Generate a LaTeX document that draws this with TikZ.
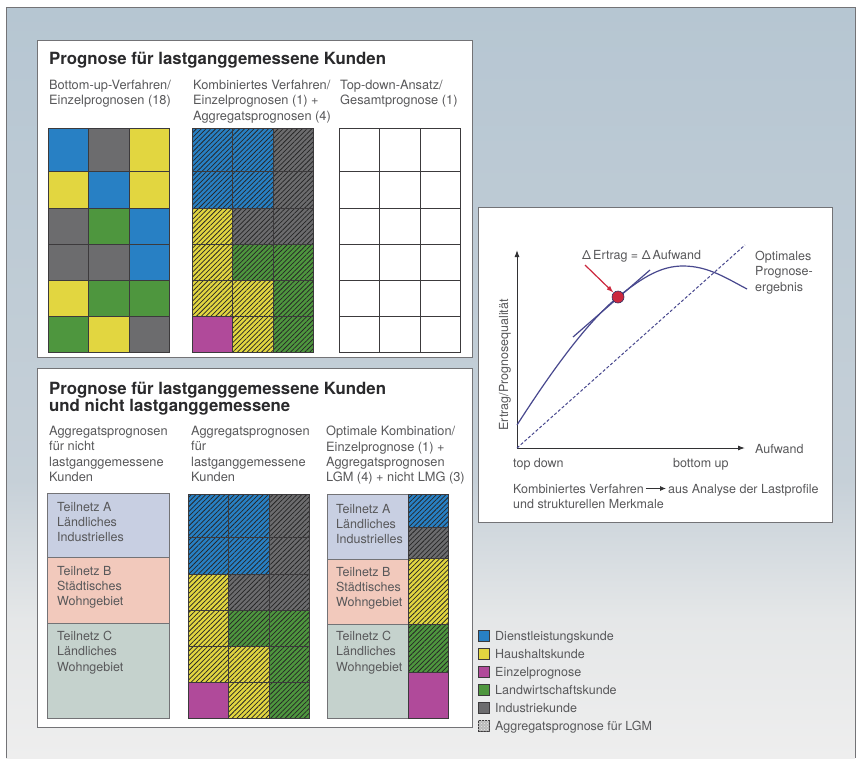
\documentclass[tikz,border=0pt]{standalone}
\usepackage{fontspec}
\setmainfont{TeX Gyre Heros}
\usetikzlibrary{positioning,arrows.meta,patterns,patterns.meta}

\definecolor{cblue}{RGB}{40,128,196}
\definecolor{cyellow}{RGB}{226,214,64}
\definecolor{cgreen}{RGB}{78,150,62}
\definecolor{cgrey}{RGB}{108,108,110}
\definecolor{cmag}{RGB}{176,74,154}
\definecolor{bandA}{RGB}{200,207,226}
\definecolor{bandB}{RGB}{242,201,188}
\definecolor{bandC}{RGB}{197,210,205}
\definecolor{txt}{RGB}{88,88,90}
\definecolor{ttlc}{RGB}{42,42,44}
\definecolor{cline}{RGB}{60,58,60}
\definecolor{pframe}{RGB}{115,115,118}
\definecolor{crv}{RGB}{72,72,142}
\definecolor{axc}{RGB}{50,50,52}
\definecolor{dotred}{RGB}{204,40,62}
\definecolor{bgA}{RGB}{182,198,210}
\definecolor{bgB}{RGB}{198,208,216}
\definecolor{bgC}{RGB}{229,231,232}
\definecolor{bgD}{RGB}{238,238,238}

\begin{document}
\begin{tikzpicture}[x=1pt, y=-1pt,
    every node/.style={inner sep=0pt, text=txt, font=\fontsize{12.5}{15.3}\selectfont},
    ttl/.style={anchor=north west, align=left, text=ttlc, font=\fontsize{16.8}{17}\selectfont\bfseries},
    lbl/.style={anchor=north west, align=left},
    head/.style={lbl, font=\fontsize{12.8}{15.3}\selectfont},
    panel/.style={draw=pframe, line width=1pt, fill=white},
    cell/.style={draw=cline, line width=0.6pt},
    band/.style={draw=pframe, line width=0.6pt},
    hb/.style={fill=#1, postaction={pattern={Lines[angle=45, distance=3.4pt, line width=0.75pt]}, pattern color=black!85}},
    axis/.style={draw=axc, line width=1pt, -{Latex[length=7pt, width=5pt]}},
    curve/.style={draw=crv, line width=1.2pt},
    key/.style={draw=cline, line width=0.5pt, minimum size=11pt, anchor=west}]
\useasboundingbox (0,0) rectangle (859,758);
\fill[white] (0,0) rectangle (859,758);
\shade[top color=bgA, bottom color=bgB] (6,7) rectangle (855,480);
\shade[top color=bgB, bottom color=bgC] (6,480) rectangle (855,620);
\shade[top color=bgC, bottom color=bgD] (6,620) rectangle (855,758);
\draw[pframe, line width=1pt] (6,758) -- (6,7) -- (855,7) -- (855,758);

\draw[panel] (37,40) rectangle (472,357);
\draw[panel] (37,368) rectangle (472,727);
\draw[panel] (478,207) rectangle (832,522);

\node[ttl] (title-lgm) at (49,52) {Prognose für lastganggemessene Kunden};
\node[head] (bottom-up) at (49,80) {Bottom-up-Verfahren/\\Einzelprognosen (18)};
\node[head] (combined) at (193,80) {Kombiniertes Verfahren/\\Einzelprognosen (1) +\\Aggregatsprognosen (4)};
\node[head] (top-down) at (340,80) {Top-down-Ansatz/\\Gesamtprognose (1)};

\begin{scope}[shift={(48,128)}]
\foreach \yt/\yb/\a/\b/\c in {0/43/cblue/cgrey/cyellow, 43/80/cyellow/cblue/cyellow, 80/116/cgrey/cgreen/cblue,
    116/152/cgrey/cgrey/cblue, 152/188/cyellow/cgreen/cgreen, 188/224/cgreen/cyellow/cgrey}
  {\fill[\a] (0,\yt) rectangle (40.5,\yb);
   \fill[\b] (40.5,\yt) rectangle (81,\yb);
   \fill[\c] (81,\yt) rectangle (121.5,\yb);}
\end{scope}

\foreach \gx/\gy in {192/128, 188/494}
  {\begin{scope}[shift={(\gx,\gy)}]
   \foreach \yt/\yb/\a/\b/\c in {0/43/cblue/cblue/cgrey, 43/80/cblue/cblue/cgrey, 80/116/cyellow/cgrey/cgrey,
       116/152/cyellow/cgreen/cgreen, 152/188/cyellow/cyellow/cgreen, 188/224/cmag/cyellow/cgreen}
     {\fill[hb=\a] (0,\yt) rectangle (40.5,\yb);
      \fill[hb=\b] (40.5,\yt) rectangle (81,\yb);
      \fill[hb=\c] (81,\yt) rectangle (121.5,\yb);}
   \fill[cmag] (0,188) rectangle (40.5,224);
   \end{scope}}

\fill[white] (339,128) rectangle (460.5,352);
\foreach \gx/\gy in {48/128, 192/128, 339/128, 188/494}
  {\begin{scope}[shift={(\gx,\gy)}]
   \foreach \y in {0,43,80,116,152,188,224} \draw[cell] (0,\y) -- (121.5,\y);
   \foreach \x in {0,40.5,81,121.5} \draw[cell] (\x,0) -- (\x,224);
   \end{scope}}

\node[ttl] (title-all) at (49,382) {Prognose für lastganggemessene Kunden\\und nicht lastganggemessene};
\node[head] (agg-nlgm) at (49,426) {Aggregatsprognosen\\für nicht\\lastganggemessene\\Kunden};
\node[head] (agg-lgm) at (191,426) {Aggregatsprognosen\\für\\lastganggemessene\\Kunden};
\node[head] (optimal) at (326,426) {Optimale Kombination/\\Einzelprognose (1) +\\Aggregatsprognosen\\LGM (4) + nicht LMG (3)};

\draw[band, fill=bandA] (47,493) rectangle (169,557);
\draw[band, fill=bandB] (47,557) rectangle (169,623);
\draw[band, fill=bandC] (47,623) rectangle (169,718);
\node[lbl] (net-a) at (57,502) {Teilnetz A\\Ländliches\\Industrielles};
\node[lbl] (net-b) at (57,566) {Teilnetz B\\Städtisches\\Wohngebiet};
\node[lbl] (net-c) at (57,631) {Teilnetz C\\Ländliches\\Wohngebiet};

\draw[band, fill=bandA] (327,494) rectangle (408,559);
\draw[band, fill=bandB] (327,559) rectangle (408,624);
\draw[band, fill=bandC] (327,624) rectangle (408,718);
\fill[hb=cblue] (408,494) rectangle (448,527);
\fill[hb=cgrey] (408,527) rectangle (448,558);
\fill[hb=cyellow] (408,558) rectangle (448,624);
\fill[hb=cgreen] (408,624) rectangle (448,672);
\fill[cmag] (408,672) rectangle (448,718);
\draw[cell] (408,494) rectangle (448,718);
\foreach \y in {527,558,624,672} \draw[cell] (408,\y) -- (448,\y);
\node[lbl] (opt-a) at (336,504) {Teilnetz A\\Ländliches\\Industrielles};
\node[lbl] (opt-b) at (336,567) {Teilnetz B\\Städtisches\\Wohngebiet};
\node[lbl] (opt-c) at (336,631) {Teilnetz C\\Ländliches\\Wohngebiet};

\coordinate (origin) at (517,448);
\coordinate (y-tip) at (517,250);
\coordinate (x-tip) at (745,448);
\coordinate (start) at (517,425);
\coordinate (opt-pt) at (618,297);
\coordinate (peak) at (683,266);
\coordinate (end) at (747,289);
\coordinate (tan-a) at (573,337);
\coordinate (tan-b) at (650,270);
\coordinate (dash-end) at (745,245);
\coordinate (red-foot) at (585,265);
\draw[axis] (origin) -- (y-tip);
\draw[axis] (origin) -- (x-tip);
\draw[crv, line width=1pt, dash pattern=on 3pt off 2pt] (origin) -- (dash-end);
\draw[curve] (start) .. controls (560,358) and (592,318) .. (opt-pt)
  .. controls (644,276) and (662,266) .. (peak) .. controls (708,266) and (726,278) .. (end);
\draw[curve] (tan-a) -- (tan-b);
\node[circle, minimum size=12pt, fill=dotred, draw=crv!70!black, line width=0.6pt] (dot) at (opt-pt) {};
\draw[dotred, line width=1.2pt, -{Latex[length=7pt, width=5pt]}] (red-foot) -- (dot);
\node[anchor=base west] (delta) at (582,259) {Δ\,Ertrag = Δ\,Aufwand};
\node[lbl] (best) at (755,251) {Optimales\\Prognose-\\ergebnis};
\node[rotate=90] (y-label) at (505,365) {Ertrag/Prognosequalität};
\node[anchor=west] (aufwand) at (755,449) {Aufwand};
\node[anchor=base west] (td-label) at (513,467) {top down};
\node[anchor=base west] (bu-label) at (673,467) {bottom up};
\node[anchor=base west, inner sep=2pt] (cap-a) at (511,493) {Kombiniertes Verfahren};
\node[anchor=base west, inner sep=2pt] (cap-b) at (666,493) {aus Analyse der Lastprofile};
\node[anchor=base west] (cap-c) at (513,508) {und strukturellen Merkmale};
\draw[axc, line width=0.8pt, -{Latex[length=6pt, width=5pt]}] (cap-a.east) -- (cap-a.east -| cap-b.west);

\foreach \c/\t [count=\i] in {cblue/Dienstleistungskunde, cyellow/Haushaltskunde, cmag/Einzelprognose,
    cgreen/Landwirtschaftskunde, cgrey/Industriekunde}
  {\node[key, fill=\c] (key-\i) at (478,618+18*\i) {};
   \node[anchor=base west] (leg-\i) at (495,622+18*\i) {\t};}
\node[key, fill=gray!55, postaction={pattern=crosshatch dots, pattern color=gray!15}] (key-6) at (478,726) {};
\node[anchor=base west] (leg-6) at (495,730) {Aggregatsprognose für LGM};
\end{tikzpicture}
\end{document}
